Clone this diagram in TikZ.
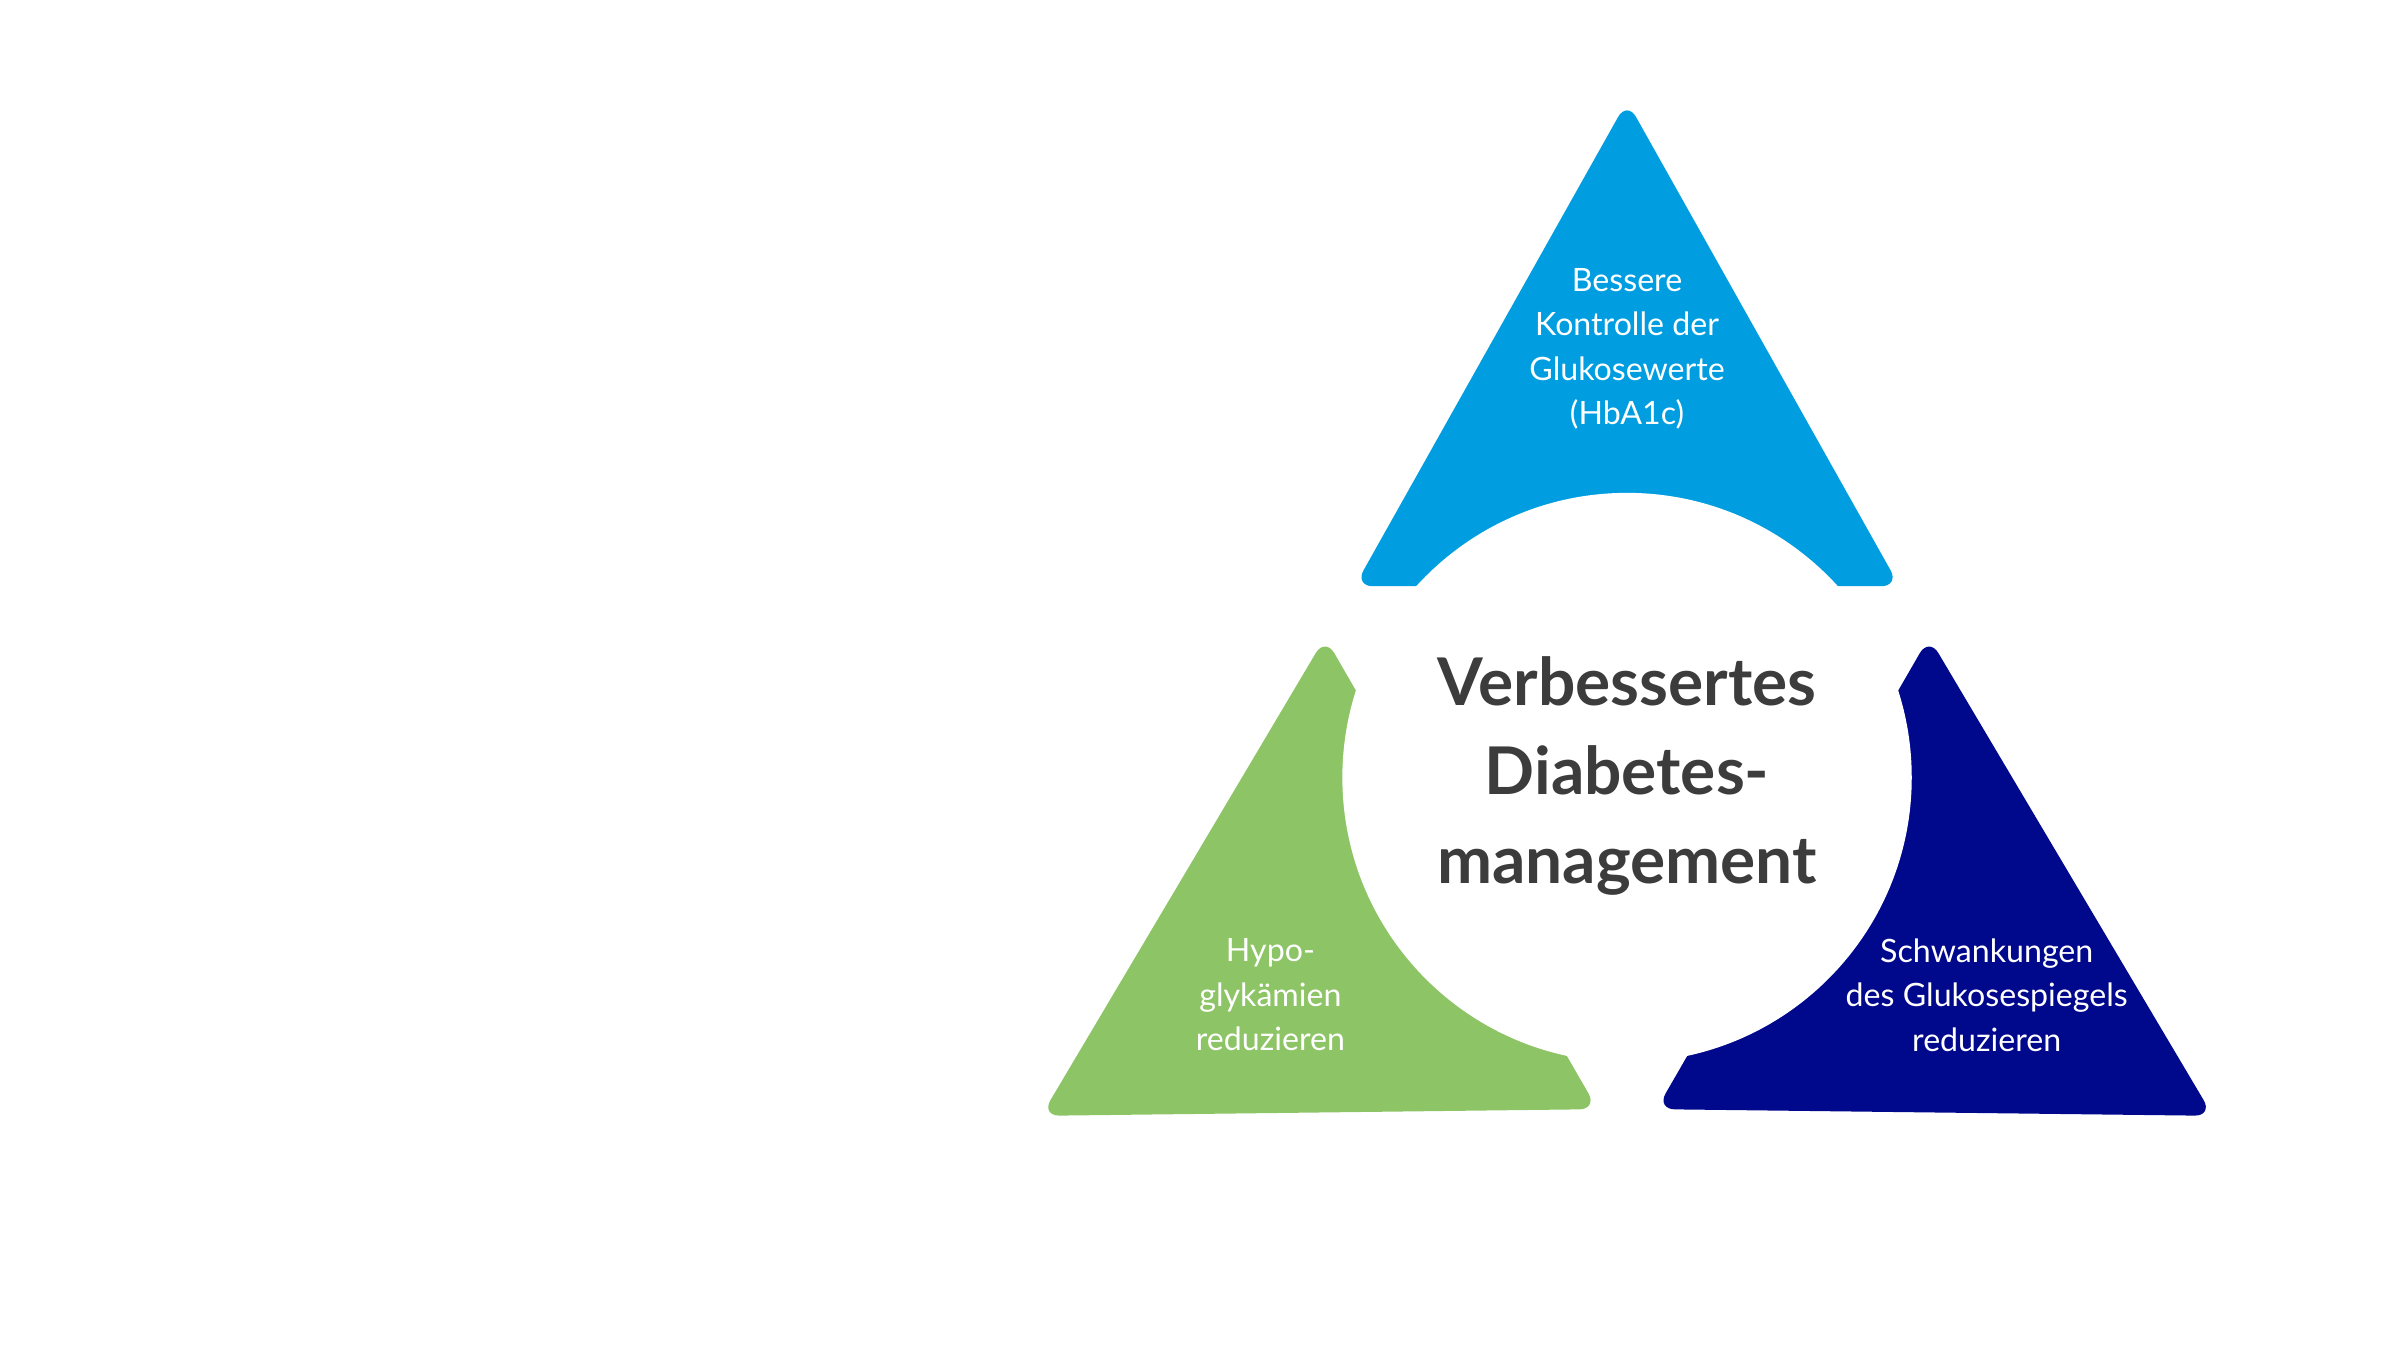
\documentclass[tikz,border=0pt]{standalone}
\usepackage{fontspec}
\setmainfont{Lato}
\definecolor{cblue}{RGB}{0,158,224}
\definecolor{cgreen}{RGB}{141,196,101}
\definecolor{cnavy}{RGB}{0,8,140}
\definecolor{ctext}{RGB}{60,60,60}
\begin{document}
\begin{tikzpicture}[x=1pt,y=-1pt,
  piece/.style={rounded corners=12pt},
  small/.style={text=white,align=center,font=\fontsize{21}{29}\selectfont},
  title/.style={text=ctext,align=center,font=\fontsize{43}{58}\selectfont\bfseries}]
\useasboundingbox (0,0) rectangle (1568,890);
\coordinate (c) at (1063,508);
\foreach \ang/\col in {0/cblue,120/cgreen,240/cnavy}{
  \begin{scope}[rotate around={\ang:(c)}]
    \fill[\col,piece] (1063,66) -- (1241,383) -- (885,383) -- cycle;
  \end{scope}
}
\fill[white] (c) circle (186);
\node[title] (t) at (1063,507) {Verbessertes\\Diabetes-\\management};
\node[small] (a) at (1063,228) {Bessere\\Kontrolle der\\Glukosewerte\\(HbA1c)};
\node[small] (b) at (830,650) {Hypo-\\glykämien\\reduzieren};
\node[small] (d) at (1298,650) {Schwankungen\\des Glukosespiegels\\reduzieren};
\end{tikzpicture}
\end{document}
